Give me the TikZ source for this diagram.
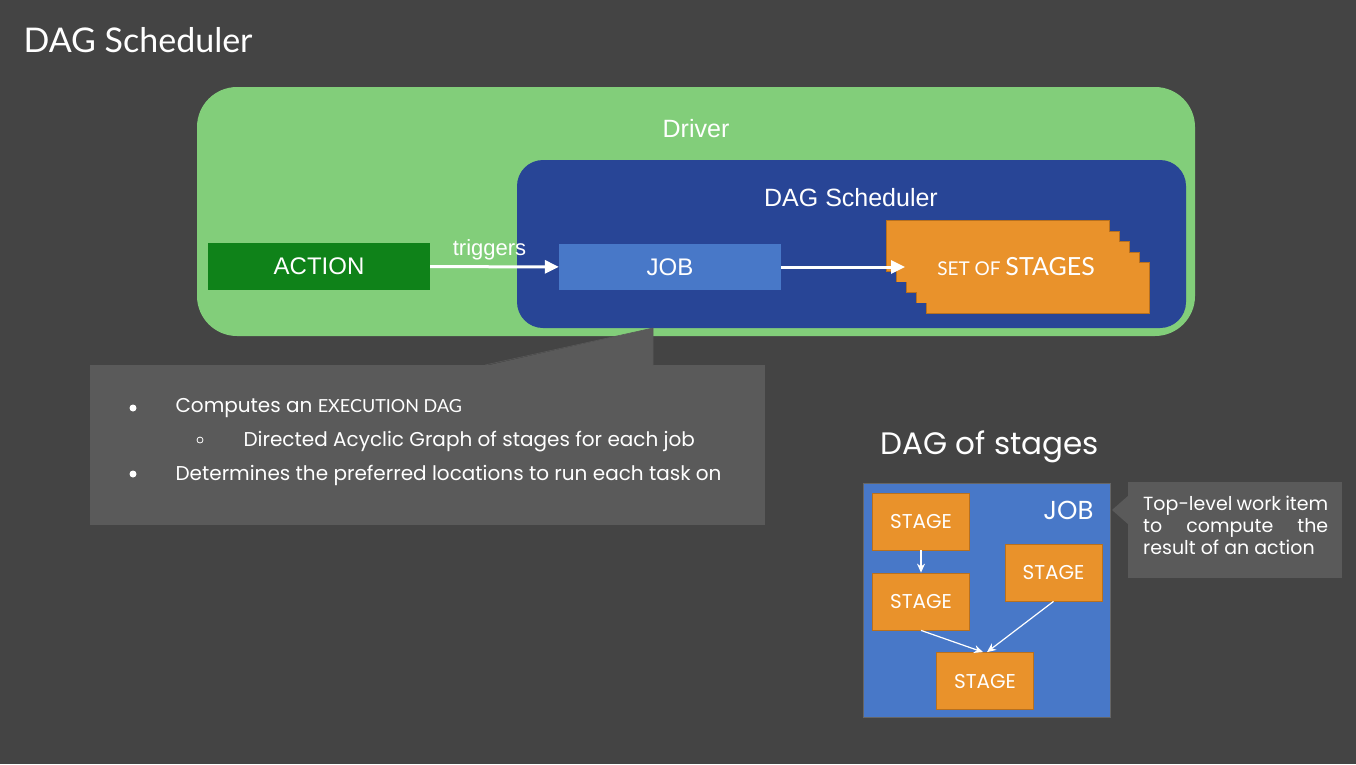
\documentclass[tikz,border=0pt]{standalone}
\usepackage{fontspec}
\setmainfont{Poppins}
\newfontfamily\arialfont{Liberation Sans}
\newfontfamily\latofont{Lato}
\usetikzlibrary{positioning,arrows.meta,calc}
\definecolor{bggrey}{HTML}{444444}
\definecolor{drivergreen}{HTML}{82CE7A}
\definecolor{schednavy}{HTML}{284596}
\definecolor{actiongreen}{HTML}{0F8219}
\definecolor{jobblue}{HTML}{4878C8}
\definecolor{stageorange}{HTML}{E9922B}
\definecolor{stageedge}{HTML}{B8701E}
\definecolor{notegrey}{HTML}{5A5A5A}
\newcommand{\fs}[1]{\fontsize{#1}{#1}\selectfont}
\begin{document}
\begin{tikzpicture}[x=1pt, y=-1pt, >=Stealth, text=white,
  box/.style={inner sep=0pt, minimum width=#1},
  stagebox/.style={fill=stageorange, draw=stageedge, line width=0.8pt, inner sep=0pt, minimum width=97, minimum height=57, font=\fs{20}},
  fatarr/.style={white, line width=3pt, -{Triangle[length=14pt,width=13pt]}},
  thinarr/.style={white, line width=1.2pt, -{Stealth[length=9pt,width=8pt]}}]
  \fill[bggrey] (0,0) rectangle (1356,764);
  \node[anchor=base west, font=\latofont\fs{34}] (title) at (20,52) {DAG Scheduler};
  % driver and scheduler
  \node[box=998, minimum height=249, fill=drivergreen, rounded corners=40pt] (driver) at (696,211.5) {};
  \node[font=\arialfont\fs{25}] (drivertxt) at (696,129) {Driver};
  \node[box=669, minimum height=168, fill=schednavy, rounded corners=26pt] (sched) at (851.5,244) {};
  \node[font=\arialfont\fs{25}] (schedtxt) at (851,198) {DAG Scheduler};
  \node[box=222, minimum height=47, fill=actiongreen, font=\arialfont\fs{24}] (action) at (319,266.5) {ACTION};
  \node[box=222, minimum height=46, fill=jobblue, font=\arialfont\fs{24}] (job) at (670,267) {JOB};
  \foreach \i in {4,3,2,1,0}
    \draw[stageedge, line width=1.2pt] (887+10*\i,221+10.5*\i) rectangle ++(222,50);
  \foreach \i in {4,3,2,1,0}
    \node[box=222, minimum height=50, fill=stageorange, anchor=north west] (st\i) at (887+10*\i,221+10.5*\i) {};
  \node[font=\latofont] (settxt) at (1016,267) {\fs{19}SET OF \fs{25}STAGES};
  \coordinate (stin) at (905,267);
  \draw[fatarr] (action) -- (job) node[midway, above=2pt, xshift=-5pt, font=\arialfont\fs{22}] (trig) {triggers};
  \draw[fatarr] (job) -- (stin);
  % scheduler note
  \node[box=675, minimum height=160, fill=notegrey, anchor=north west] (note) at (90,365) {};
  \coordinate (tip) at (653,328);
  \fill[notegrey] (485,366) -- (tip) -- (653,366) -- cycle;
  \draw[gray!70!black, line width=0.6pt] (485,365) -- (tip) -- (653,365);
  \fill[white] (133,408) circle (3.5pt); \draw[white, line width=0.8pt] (200,440) circle (3pt); \fill[white] (133,474) circle (3.5pt);
  \node[anchor=base west, font=\fs{20}] (l1) at (172,412) {Computes an {\latofont\fs{18}EXECUTION DAG}};
  \node[anchor=base west, font=\fs{20}] (l2) at (240,446) {Directed Acyclic Graph of stages for each job};
  \node[anchor=base west, font=\fs{20}] (l3) at (172,480) {Determines the preferred locations to run each task on};
  % dag of stages
  \node[anchor=base west, font=\fs{31}] (dagtitle) at (877,454) {DAG of stages};
  \node[box=247, minimum height=234, fill=jobblue, draw=gray!80!black, line width=0.6pt, anchor=north west] (jobpanel) at (863,483) {};
  \node[anchor=base east, font=\fs{26}] (jobtxt) at (1097,519) {JOB};
  \node[stagebox] (s1) at (921,521.5) {STAGE};
  \node[stagebox] (s2) at (921,601.5) {STAGE};
  \node[stagebox] (s3) at (1053.5,572.5) {STAGE};
  \node[stagebox] (s4) at (985,681) {STAGE};
  \draw[thinarr] (s1) -- (s2);
  \draw[thinarr] (s2.south) -- ($(s4.north)+(-2,0)$);
  \draw[thinarr] (s3.south) -- ($(s4.north)+(2,0)$);
  % job note
  \node[box=214, minimum height=96, fill=notegrey, anchor=north west] (jobnote) at (1128,482) {};
  \fill[notegrey] (1129,495) -- (1112,510) -- (1129,525) -- cycle;
  \node[anchor=north west, align=left, font=\fontsize{19}{22}\selectfont, inner sep=0pt] (jobnotetxt) at (1143,496)
    {\makebox[185pt][s]{Top-level work item}\\\makebox[185pt][s]{to compute the}\\result of an action};
\end{tikzpicture}
\end{document}
